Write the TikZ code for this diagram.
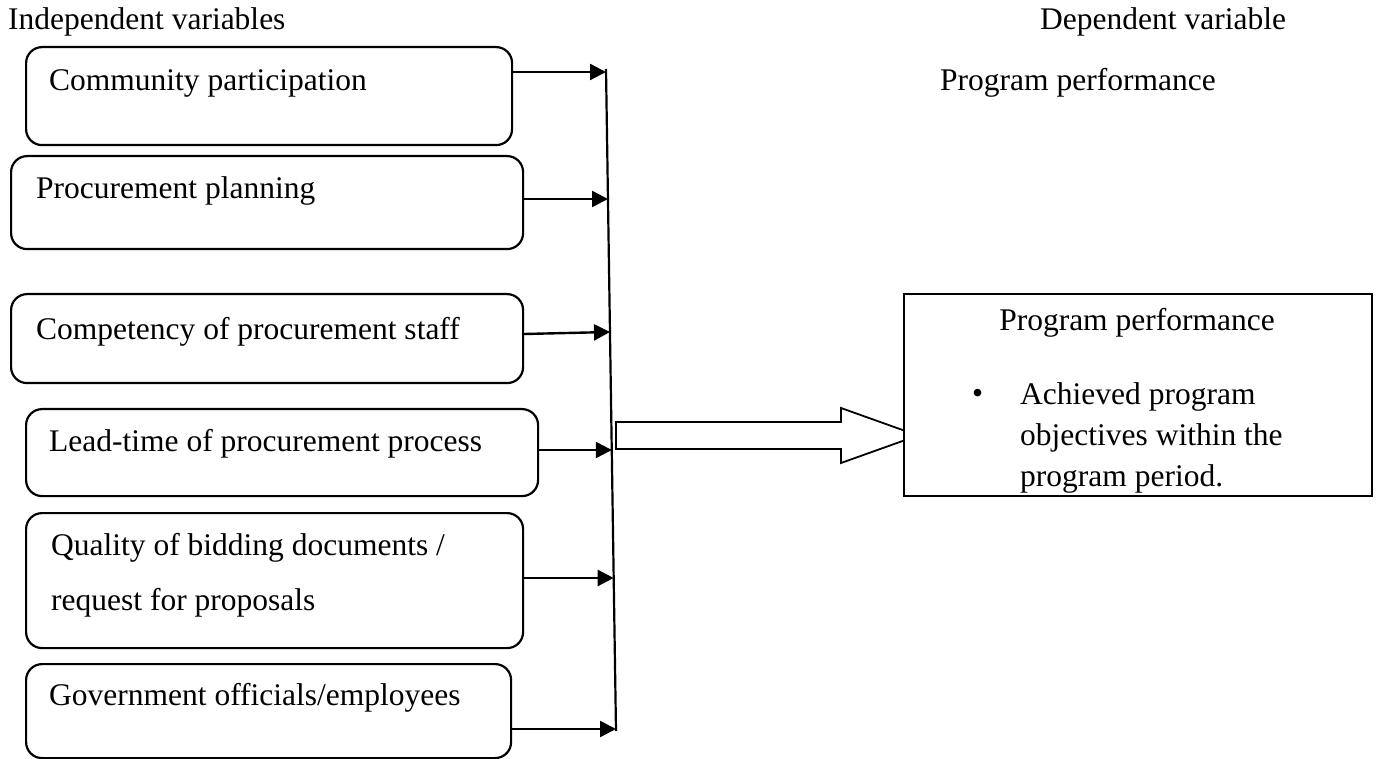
\documentclass[tikz,border=0pt]{standalone}
\usepackage{fontspec}
\setmainfont{Liberation Serif}
\usetikzlibrary{arrows.meta}
\begin{document}
\begin{tikzpicture}[x=1pt,y=-1pt,
  box/.style={draw, line width=2.2pt, rounded corners=16pt, anchor=north west, inner sep=0pt},
  txt/.style={anchor=west, inner sep=0pt, font=\fontsize{31.5}{40}\selectfont},
  conn/.style={line width=2.4pt, -{Triangle[length=16pt,width=16pt]}},
  bar/.style={line width=2.2pt}]
\useasboundingbox (0,0) rectangle (1377,759);

% headers
\node[txt] (hind) at (8,22) {Independent variables};
\node[txt] (hdep) at (1040,22) {Dependent variable};
\node[txt] (hperf) at (940,83) {Program performance};

% input boxes
\node[box, minimum width=486pt, minimum height=98pt] (b1) at (25,46) {};
\node[box, minimum width=512pt, minimum height=93pt] (b2) at (10,155) {};
\node[box, minimum width=512pt, minimum height=89pt] (b3) at (10,293) {};
\node[box, minimum width=512pt, minimum height=87pt] (b4) at (25,408) {};
\node[box, minimum width=497pt, minimum height=135pt] (b5) at (25,512) {};
\node[box, minimum width=485pt, minimum height=94pt] (b6) at (25,663) {};

\node[txt] (l1) at (49,83) {Community participation};
\node[txt] (l2) at (36,191) {Procurement planning};
\node[txt] (l3) at (36,332) {Competency of procurement staff};
\node[txt] (l4) at (49,444) {Lead-time of procurement process};
\node[txt, align=left, font=\fontsize{31.5}{55}\selectfont] (l5) at (51,575.5) {Quality of bidding documents /\\request for proposals};
\node[txt] (l6) at (49,698) {Government officials/employees};

% collecting line
\coordinate (vtop) at (606,69);
\coordinate (vbot) at (616,731);
\draw[bar] (vtop) -- (vbot);

\coordinate (t1) at (606,72);
\coordinate (t2) at (608,199);
\coordinate (t3) at (610,332);
\coordinate (t4) at (611.8,450);
\coordinate (t5) at (613.7,578);
\coordinate (t6) at (616,729);

\draw[conn] (b1.east |- t1) -- (t1);
\draw[conn] (b2.east |- t2) -- (t2);
\draw[conn] (b3.east |- 0,334) -- (t3);
\draw[conn] (b4.east |- t4) -- (t4);
\draw[conn] (b5.east |- t5) -- (t5);
\draw[conn] (b6.east |- t6) -- (t6);

% block arrow
\draw[line width=1.8pt, fill=white] (616,422) -- (841,422) -- (841,408) -- (918,435.5)
  -- (841,463) -- (841,449) -- (616,449) -- cycle;

% output box
\node[draw, line width=2.2pt, fill=white, minimum width=468pt, minimum height=202pt,
  anchor=north west, inner sep=0pt] (out) at (903,293) {};
\node[anchor=center, inner sep=0pt, font=\fontsize{31.5}{40}\selectfont] (otitle) at (1137,323) {Program performance};
\node[txt] (obul) at (972,396) {•};
\node[txt, align=left, font=\fontsize{31.5}{41}\selectfont] (otext) at (1020,437.5) {Achieved program\\objectives within the\\program period.};
\end{tikzpicture}
\end{document}
